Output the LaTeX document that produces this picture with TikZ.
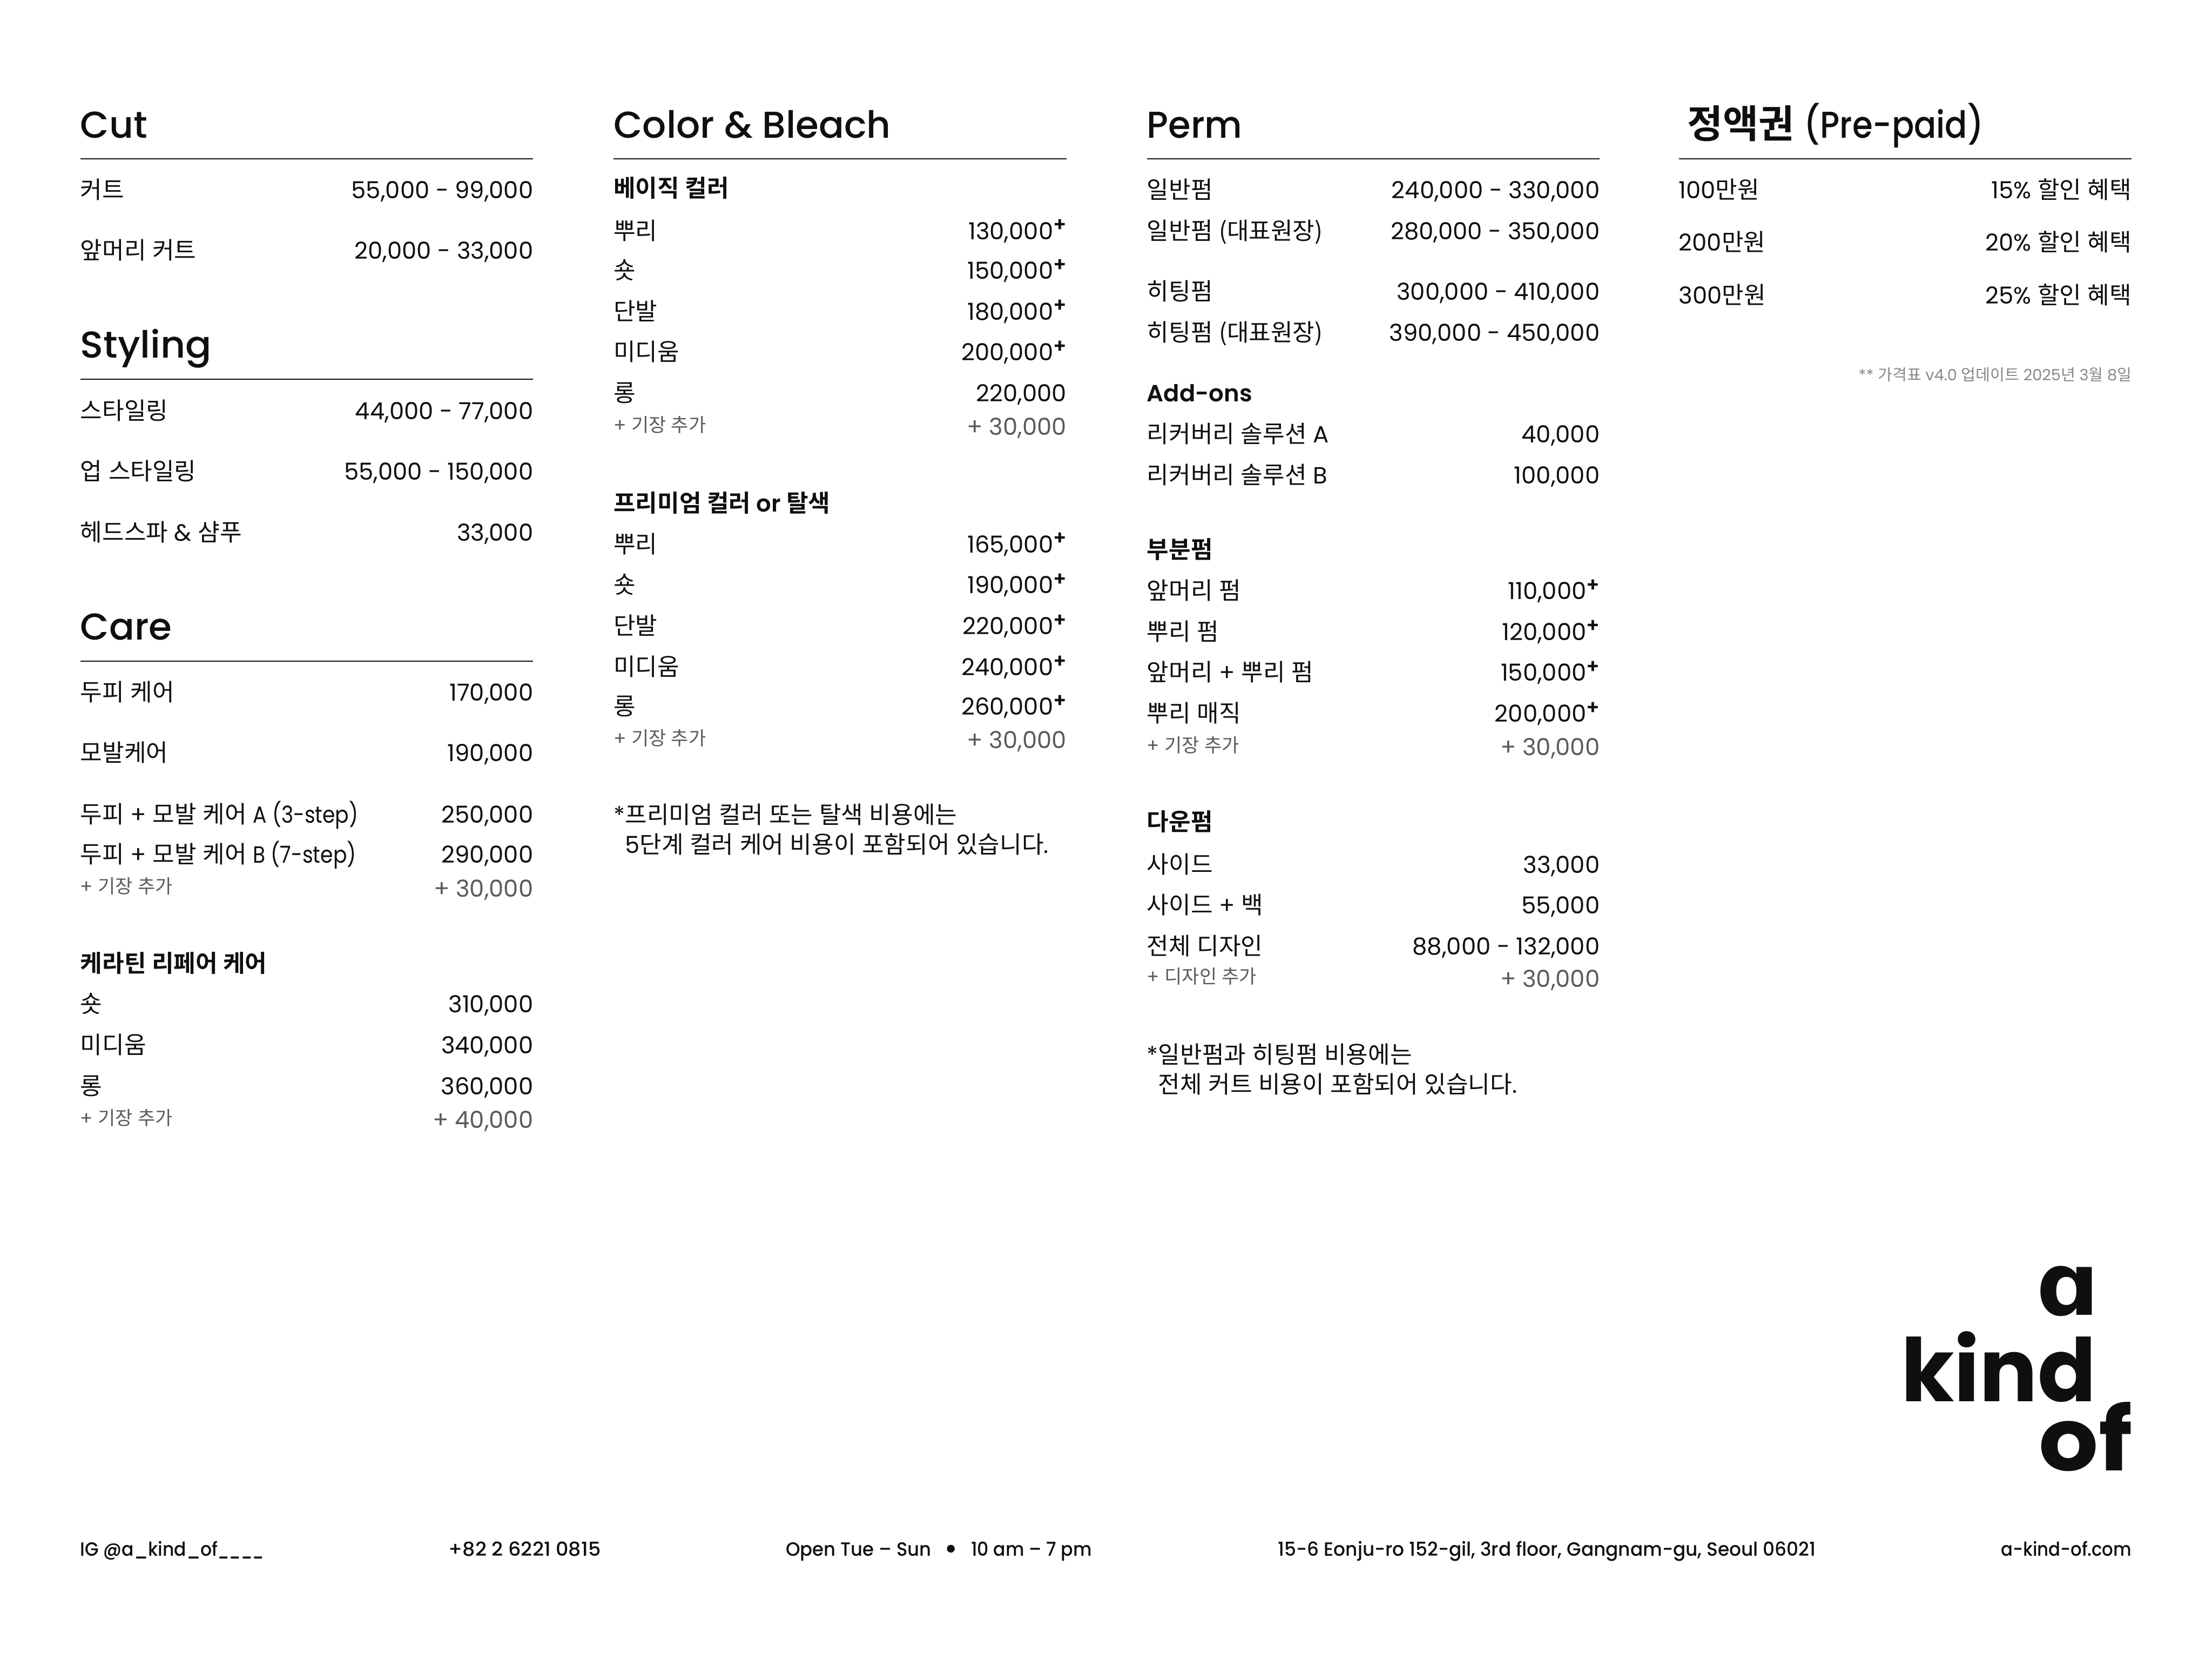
\documentclass[tikz,border=0pt]{standalone}
\usepackage{fontspec}
\setmainfont{Poppins}[BoldFont={Poppins SemiBold}]
\newfontfamily\krfont{Noto Sans CJK KR}[BoldFont={Noto Sans CJK KR Bold},Scale=1.018]
\newfontfamily\headfont{Poppins Medium}
\newfontfamily\footfont{Poppins Medium}
\newfontfamily\logofont{Poppins Bold}
\newfontfamily\alphafont{DejaVu Sans Bold}
\XeTeXinterchartokenstate=1
\newXeTeXintercharclass\hgclass
\count255="AC00
\loop\XeTeXcharclass\count255=\hgclass\ifnum\count255<"D7A3 \advance\count255 by 1 \repeat
\XeTeXinterchartoks 0 \hgclass = {\begingroup\krfont}
\XeTeXinterchartoks 4095 \hgclass = {\begingroup\krfont}
\XeTeXinterchartoks \hgclass 0 = {\endgroup}
\XeTeXinterchartoks \hgclass 4095 = {\endgroup}
\definecolor{ink}{HTML}{0F0F0F}
\definecolor{softgray}{HTML}{5A5A5A}
\definecolor{notegray}{HTML}{888888}
\newcounter{nn}
\tikzset{
  txt/.style={inner sep=0pt,outer sep=0pt,text=ink,font=\fontsize{16.6}{16.6}\selectfont},
  hdr/.style={txt,font=\fontsize{26.5}{26.5}\headfont},
  small/.style={txt,text=softgray,font=\fontsize{13.2}{13.2}\selectfont},
  foot/.style={txt,font=\fontsize{13.6}{13.6}\footfont},
  sep/.style={draw=ink,line width=0.6pt},
}
\def\cL{57}\def\cR{378}
\newcommand\Put[4][txt]{\stepcounter{nn}\node[#1,anchor=#2] (t\arabic{nn}) at #3 {#4};}
\newcommand\LR[3]{\Put{base west}{(\cL,#1+6.7)}{#2}\Put{base east}{(\cR,#1+6.7)}{#3}}
\newcommand\Lf[2]{\Put{base west}{(\cL,#1+6.7)}{#2}}
\newcommand\Bd[2]{\Put{base west}{(\cL,#1+6.7)}{\bfseries #2}}
\newcommand\Hd[3]{\Put[hdr]{base west}{(\cL,#1+0.7)}{#3}\draw[sep] (\cL,#2) -- (\cR,#2);}
\newcommand\Ex[3]{\Put[small]{base west}{(\cL,#1+11)}{#2}\Put[txt,text=softgray]{base east}{(\cR,#1+13.5)}{#3}}
\newcommand\Sup{{\fontsize{14}{14}\fontseries{b}\selectfont\raisebox{5.5pt}{+}}}
\newcommand\Nar[2][0.87]{\scalebox{#1}[1]{#2}}
\begin{document}
\begin{tikzpicture}[x=1pt,y=-1pt]
\useasboundingbox (0,0) rectangle (1568,1176);
\fill[white] (0,0) rectangle (1568,1176);
% column 1
\def\cL{57}\def\cR{378}
\Hd{97}{112.5}{Cut}
\LR{134}{커트}{55,000 - 99,000}
\LR{177}{앞머리 커트}{20,000 - 33,000}
\Hd{253}{268.7}{\Nar[1.03]{Styling}}
\LR{290.5}{스타일링}{44,000 - 77,000}
\LR{333.5}{업 스타일링}{55,000 - 150,000}
\LR{376.5}{헤드스파 \& 샴푸}{33,000}
\Hd{452.8}{468.5}{Care}
\LR{490}{두피 케어}{170,000}
\LR{533}{모발케어}{190,000}
\LR{576.5}{두피 + 모발 케어 \Nar{A (3-step)}}{250,000}
\LR{605}{두피 + 모발 케어 \Nar{B (7-step)}}{290,000}
\Ex{622}{+ 기장 추가}{+ 30,000}
\Bd{682}{케라틴 리페어 케어}
\LR{711}{숏}{310,000}
\LR{740}{미디움}{340,000}
\LR{769}{롱}{360,000}
\Ex{786}{+ 기장 추가}{+ 40,000}
% column 2
\def\cL{435}\def\cR{756}
\Hd{97}{112.5}{Color \& Bleach}
\Bd{133}{베이직 컬러}
\LR{163}{뿌리}{130,000\Sup}
\LR{191}{숏}{150,000\Sup}
\LR{220}{단발}{180,000\Sup}
\LR{249}{미디움}{200,000\Sup}
\LR{278}{롱}{220,000}
\Ex{295}{+ 기장 추가}{+ 30,000}
\Bd{356}{프리미엄 컬러 or 탈색}
\LR{385}{뿌리}{165,000\Sup}
\LR{414}{숏}{190,000\Sup}
\LR{443}{단발}{220,000\Sup}
\LR{472}{미디움}{240,000\Sup}
\LR{500}{롱}{260,000\Sup}
\Ex{517}{+ 기장 추가}{+ 30,000}
\Lf{577}{*프리미엄 컬러 또는 탈색 비용에는}
\Put{base west}{(443,604.7)}{5단계 컬러 케어 비용이 포함되어 있습니다.}
% column 3
\def\cL{813}\def\cR{1134}
\Hd{97}{112.5}{\Nar[0.97]{Perm}}
\LR{134}{일반펌}{240,000 - 330,000}
\LR{163}{일반펌 {\krfont (}대표원장{\krfont )}}{280,000 - 350,000}
\LR{206}{히팅펌}{300,000 - 410,000}
\LR{235}{히팅펌 {\krfont (}대표원장{\krfont )}}{390,000 - 450,000}
\Bd{278}{Add-ons}
\LR{307}{리커버리 솔루션 A}{40,000}
\LR{336}{리커버리 솔루션 B}{100,000}
\Bd{389}{부분펌}
\LR{418}{앞머리 펌}{110,000\Sup}
\LR{447}{뿌리 펌}{120,000\Sup}
\LR{476}{앞머리 + 뿌리 펌}{150,000\Sup}
\LR{505}{뿌리 매직}{200,000\Sup}
\Ex{522}{+ 기장 추가}{+ 30,000}
\Bd{582}{다운펌}
\LR{612}{사이드}{33,000}
\LR{641}{사이드 + 백}{55,000}
\LR{670}{전체 디자인}{88,000 - 132,000}
\Ex{686}{+ 디자인 추가}{+ 30,000}
\Lf{747}{*일반펌과 히팅펌 비용에는}
\Put{base west}{(821,774.7)}{전체 커트 비용이 포함되어 있습니다.}
% column 4
\def\cL{1190}\def\cR{1511}
\Put[hdr]{base west}{(1196,97.7)}{{\fontsize{27}{27}\selectfont\bfseries 정액권} {\Nar[0.88]{(Pre-paid)}}}
\draw[sep] (\cL,112.5) -- (\cR,112.5);
\LR{134}{100만원}{15\% 할인 혜택}
\LR{171}{200만원}{20\% 할인 혜택}
\LR{208.5}{300만원}{25\% 할인 혜택}
\Put[small,text=notegray,font=\fontsize{11}{11}\selectfont]{base east}{(1511,269.7)}{** 가격표 v4.0 업데이트 2025년 3월 8일}
% logo
\Put[txt,font=\fontsize{62}{62}\alphafont]{base east}{(1488,932)}{ɑ}
\Put[txt,font=\fontsize{62}{62}\logofont]{base west}{(1347.5,993)}{\Nar[0.985]{kind}}
\Put[txt,font=\fontsize{62}{62}\logofont]{base east}{(1511.5,1042)}{\Nar[1.07]{of}}
% footer
\Put[foot]{base west}{(57,1102.7)}{\Nar[0.93]{IG @a\_kind\_of}\Nar[0.75]{\_\_\_\_}}
\Put[foot]{base west}{(318,1102.7)}{\Nar[1.03]{+82 2 6221 0815}}
\Put[foot]{base west}{(557,1102.7)}{\Nar[0.955]{Open Tue – Sun}}
\stepcounter{nn}\node[circle,fill=ink,inner sep=0pt,minimum size=5.5pt] (t\arabic{nn}) at (674,1097.5) {};
\Put[foot]{base east}{(774,1102.7)}{\Nar[0.935]{10 am – 7 pm}}
\Put[foot]{base west}{(906,1102.7)}{\Nar[0.967]{15-6 Eonju-ro 152-gil, 3rd floor, Gangnam-gu, Seoul 06021}}
\Put[foot]{base east}{(1511,1102.7)}{\Nar[0.91]{a-kind-of.com}}
\end{tikzpicture}
\end{document}
